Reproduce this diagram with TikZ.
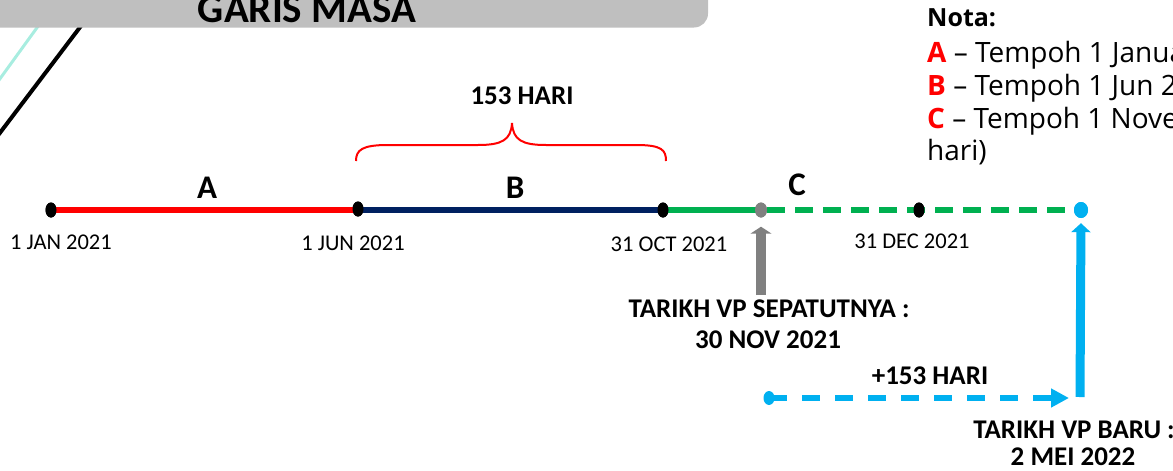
\documentclass[tikz,border=0pt]{standalone}
\usepackage{fontspec}
\setmainfont{Carlito}
\newfontfamily\notafont{Open Sans}
\usetikzlibrary{arrows.meta,shapes.geometric}
\definecolor{barg}{HTML}{BFBFBF}
\definecolor{tealc}{HTML}{A8EDE0}
\definecolor{navyc}{HTML}{002060}
\definecolor{greenc}{HTML}{00B050}
\definecolor{cyanc}{HTML}{00B0F0}
\definecolor{grayc}{HTML}{808080}
\definecolor{redc}{HTML}{FF0000}
\tikzset{
  dotm/.style={ellipse, fill=black, minimum width=11pt, minimum height=15pt, inner sep=0pt},
  datelbl/.style={font=\fontsize{22.5}{25}\selectfont, anchor=base, inner sep=0pt},
  boldlbl/.style={font=\bfseries\fontsize{27}{30}\selectfont, anchor=base, inner sep=0pt},
  seglbl/.style={font=\bfseries\fontsize{33}{36}\selectfont, anchor=base, inner sep=0pt},
  notalbl/.style={font=\notafont\fontsize{28}{32}\selectfont, anchor=base west, inner sep=0pt},
  seg/.style={line width=6.5pt},
}
\begin{document}
\begin{tikzpicture}[x=1pt,y=-1pt]
\useasboundingbox (0,0) rectangle (1173,471);
\clip (0,0) rectangle (1173,471);
% decorative diagonals
\draw[tealc, line width=3pt] (44,18) -- (-6,87);
\draw[black, line width=4pt] (87,18) -- (-7,142);
% title bar
\fill[barg, rounded corners=14pt] (-30,-30) rectangle (708,27.5);
\node[font=\bfseries\fontsize{41}{44}\selectfont, anchor=base, inner sep=0pt] (title) at (307,23) {GARIS MASA};
% timeline dots
\node[dotm] (jan) at (51,210) {};
\node[dotm] (jun) at (358,209) {};
\node[dotm] (oct) at (663,210) {};
\node[dotm, fill=grayc, minimum width=12pt] (vp) at (761,210) {};
\node[dotm] (dec) at (919,210) {};
\node[dotm, fill=cyanc, minimum width=14pt, minimum height=16pt] (baru) at (1081,210) {};
% segments
\draw[seg, redc] (jan.center) -- (jun.center |- jan.center);
\draw[seg, navyc] (jun.center |- oct.center) -- (oct.center);
\draw[seg, greenc] (oct.center) -- (vp.center);
\draw[line width=5.5pt, greenc, dash pattern=on 18pt off 10pt] (vp.east) -- (baru.west);
% redraw dots on top
\node[dotm] at (jan) {};
\node[dotm] at (jun) {};
\node[dotm] at (oct) {};
\node[dotm, fill=grayc, minimum width=12pt] at (vp) {};
\node[dotm] at (dec) {};
\node[dotm, fill=cyanc, minimum width=14pt, minimum height=16pt] at (baru) {};
% date labels
\node[datelbl] (ljan) at (61,249) {1 JAN 2021};
\node[datelbl] (ljun) at (353,250) {1 JUN 2021};
\node[datelbl] (loct) at (669,251) {31 OCT 2021};
\node[datelbl] (ldec) at (912,248) {31 DEC 2021};
% segment labels
\node[seglbl] (la) at (207,198) {A};
\node[seglbl] (lb) at (515,198) {B};
\node[seglbl] (lc) at (797,195) {C};
% brace
\draw[redc, line width=2pt] (356,161) .. controls (356,150) and (362,145) .. (388,145) -- (478,145) .. controls (502,145) and (511,140) .. (512,123) .. controls (513,140) and (522,145) .. (546,145) -- (636,145) .. controls (662,145) and (666,150) .. (666,161);
\node[boldlbl] (l153) at (522,104) {153 HARI};
% gray arrow
\coordinate (gbot) at (761,295);
\draw[grayc, line width=10pt, -{Triangle[width=21pt,length=7pt]}, shorten >=9pt] (gbot) -- (vp.south);
\node[boldlbl] (sep1) at (769,317) {TARIKH VP SEPATUTNYA :};
\node[boldlbl] (sep2) at (768,348) {30 NOV 2021};
% cyan vertical arrow
\coordinate (cbot) at (1080,397);
\draw[cyanc, line width=9pt, -{Triangle[width=19pt,length=9pt]}, shorten >=5pt] (cbot) -- (baru.south);
% dashed cyan arrow
\node[dotm, fill=cyanc, minimum width=11pt, minimum height=14pt] (start) at (769,398) {};
\coordinate (cend) at (1069,398);
\draw[cyanc, line width=5.5pt, dash pattern=on 18pt off 15pt, -{Triangle[width=18pt,length=18pt]}] (start.center) -- (cend);
\node[boldlbl] (plus) at (930,384) {+153 HARI};
\node[boldlbl] (baru1) at (1074,438) {TARIKH VP BARU :};
\node[boldlbl] (baru2) at (1073,465) {2 MEI 2022};
% nota
\node[notalbl, font=\notafont\bfseries\fontsize{25}{30}\selectfont] (nota) at (927,27) {Nota:};
\node[notalbl] (na) at (927,62) {\textcolor{redc}{\bfseries A} – Tempoh 1 Januari 2021};
\node[notalbl] (nb) at (927,95) {\textcolor{redc}{\bfseries B} – Tempoh 1 Jun 2021};
\node[notalbl] (nc) at (927,128) {\textcolor{redc}{\bfseries C} – Tempoh 1 November};
\node[notalbl] (nd) at (927,160) {hari)};
\end{tikzpicture}
\end{document}
